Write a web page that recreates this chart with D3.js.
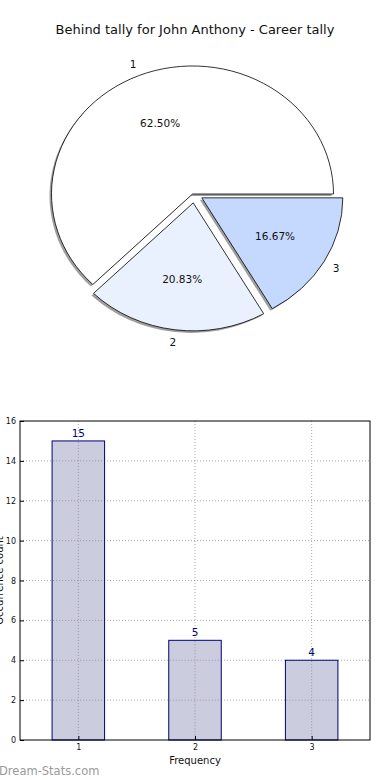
<!DOCTYPE html>
<html>
<head>
<meta charset="utf-8">
<script src="https://cdn.jsdelivr.net/npm/d3@7"></script>
<style>
  body { margin: 0; background: #fff; }
  svg { display: block; font-family: "DejaVu Sans", sans-serif; }
</style>
</head>
<body>
<svg id="svg" width="390" height="780"></svg>
<script>
////////////////////////////////////////////////////////////////////////
// Data

let title = "Behind tally for John Anthony - Career tally";
let categories = ["1", "2", "3"];
let counts = [15, 5, 4];
let sliceColors = ["#ffffff", "#eaf1fe", "#c5d9ff"];
let explode = [0, 0.07, 0.06];
let yTicks = [0, 2, 4, 6, 8, 10, 12, 14, 16];

let svg = d3.select("#svg");
let total = d3.sum(counts);

svg.append("text")
   .attr("x", 195).attr("y", 34)
   .attr("text-anchor", "middle")
   .attr("font-size", 13)
   .attr("fill", "#111")
   .text(title);

////////////////////////////////////////////////////////////////////////
// Pie (matplotlib style: starts at east, counterclockwise, squashed)

let cx = 192.5, cy = 194, rx = 141, ry = 128;

let pie = d3.pie().sort(null)
            .startAngle(Math.PI / 2)
            .endAngle(Math.PI / 2 - 2 * Math.PI);
let arcs = pie(counts);
let arcGen = d3.arc().innerRadius(0).outerRadius(1);

// d3 angle: 0 at north, clockwise. point on unit circle
function pt(a, r) { return [Math.sin(a) * r, -Math.cos(a) * r]; }

let pieG = svg.append("g");

function sliceOrigin(d, i) {
  let mid = (d.startAngle + d.endAngle) / 2;
  let off = pt(mid, explode[i]);
  // small extra nudge to the right on exploded wedges, as in the original
  let nudge = explode[i] > 0 ? 2 : 0;
  return [cx + off[0] * rx + nudge, cy + off[1] * ry];
}

function sliceGroup(d, i, dx, dy) {
  let o = sliceOrigin(d, i);
  return pieG.append("g")
    .attr("transform", "translate(" + (o[0] + dx) + "," + (o[1] + dy) + ") scale(" + rx + "," + ry + ")");
}

// shadows
arcs.forEach(function(d, i) {
  sliceGroup(d, i, -2, 2).append("path")
    .attr("d", arcGen(d))
    .attr("fill", "#7f7f7f")
    .attr("opacity", 0.75);
});

// slices
arcs.forEach(function(d, i) {
  sliceGroup(d, i, 0, 0).append("path")
    .attr("d", arcGen(d))
    .attr("fill", sliceColors[i])
    .attr("stroke", "#000")
    .attr("stroke-width", 0.8)
    .attr("vector-effect", "non-scaling-stroke");
});

// labels
arcs.forEach(function(d, i) {
  let mid = (d.startAngle + d.endAngle) / 2;
  let o = sliceOrigin(d, i);
  let p = pt(mid, 0.6), q = pt(mid, 1.1);
  svg.append("text")
     .attr("x", o[0] + p[0] * rx).attr("y", o[1] + p[1] * ry)
     .attr("text-anchor", "middle").attr("dominant-baseline", "central")
     .attr("font-size", 10.5).attr("fill", "#111")
     .text((counts[i] / total * 100).toFixed(2) + "%");
  svg.append("text")
     .attr("x", o[0] + q[0] * rx).attr("y", o[1] + q[1] * ry)
     .attr("text-anchor", "middle").attr("dominant-baseline", "central")
     .attr("font-size", 10.5).attr("fill", "#111")
     .text(categories[i]);
});

////////////////////////////////////////////////////////////////////////
// Bar chart

let plotL = 20, plotR = 370, plotT = 421, plotB = 740;

let x = d3.scaleLinear().domain([0.5, 3.5]).range([plotL, plotR]);
let y = d3.scaleLinear().domain([0, 16]).range([plotB, plotT]);
let barW = x(0.45) - x(0);

let grid = svg.append("g")
              .attr("stroke", "#aaa").attr("stroke-width", 1)
              .attr("stroke-dasharray", "1,2");
yTicks.slice(1, -1).forEach(function(t) {
  grid.append("line").attr("x1", plotL).attr("x2", plotR)
      .attr("y1", y(t)).attr("y2", y(t));
});
categories.forEach(function(c, i) {
  grid.append("line").attr("x1", x(i + 1)).attr("x2", x(i + 1))
      .attr("y1", plotT).attr("y2", plotB);
});

svg.append("g").selectAll("rect")
   .data(counts).enter().append("rect")
   .attr("x", function(d, i) { return x(i + 1) - barW / 2; })
   .attr("y", function(d) { return y(d); })
   .attr("width", barW)
   .attr("height", function(d) { return plotB - y(d); })
   .attr("fill", "#ccccdf")
   .attr("stroke", "#000080")
   .attr("stroke-width", 1);

// grid lines show on top of the bars in the original
let grid2 = svg.append("g")
               .attr("stroke", "#999").attr("stroke-width", 1)
               .attr("stroke-dasharray", "1,2");
counts.forEach(function(v, i) {
  grid2.append("line").attr("x1", x(i + 1)).attr("x2", x(i + 1))
       .attr("y1", y(v) + 1).attr("y2", plotB);
  yTicks.slice(1, -1).filter(function(t) { return t < v; }).forEach(function(t) {
    grid2.append("line")
         .attr("x1", x(i + 1) - barW / 2 + 1).attr("x2", x(i + 1) + barW / 2 - 1)
         .attr("y1", y(t)).attr("y2", y(t));
  });
});

svg.append("g").selectAll("text")
   .data(counts).enter().append("text")
   .attr("x", function(d, i) { return x(i + 1); })
   .attr("y", function(d) { return y(d) - 4; })
   .attr("text-anchor", "middle")
   .attr("font-size", 10.5).attr("fill", "#000080")
   .text(function(d) { return d; });

let yAxis = svg.append("g")
   .attr("transform", "translate(" + plotL + ",0)")
   .call(d3.axisLeft(y).tickValues(yTicks).tickSize(-4).tickPadding(4));
let xAxis = svg.append("g")
   .attr("transform", "translate(0," + plotB + ")")
   .call(d3.axisBottom(x).tickValues([1, 2, 3]).tickSize(-4).tickPadding(4)
           .tickFormat(function(d) { return categories[d - 1]; }));
[yAxis, xAxis].forEach(function(a) {
  a.select(".domain").remove();
  a.selectAll("text").attr("font-size", 8).attr("fill", "#111")
   .attr("font-family", "DejaVu Sans, sans-serif");
});

svg.append("rect")
   .attr("x", plotL).attr("y", plotT)
   .attr("width", plotR - plotL).attr("height", plotB - plotT)
   .attr("fill", "none").attr("stroke", "#000").attr("stroke-width", 1);

svg.append("text")
   .attr("x", (plotL + plotR) / 2).attr("y", 764)
   .attr("text-anchor", "middle").attr("font-size", 10).attr("fill", "#111")
   .text("Frequency");

// y label is clipped by the left edge in the original too
svg.append("text")
   .attr("transform", "translate(3," + ((plotT + plotB) / 2) + ") rotate(-90)")
   .attr("text-anchor", "middle").attr("font-size", 10).attr("fill", "#111")
   .text("Occurrence count");

svg.append("text")
   .attr("x", -1).attr("y", 775)
   .attr("font-size", 11.5).attr("fill", "#9a9a9a")
   .text("Dream-Stats.com");
</script>
</body>
</html>
